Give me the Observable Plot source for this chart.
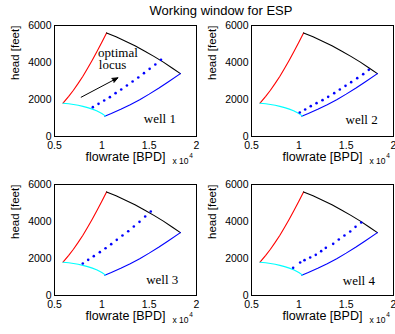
<!DOCTYPE html>
<html><head><meta charset="utf-8">
<script src="https://cdn.jsdelivr.net/npm/d3@7"></script>
<script src="https://cdn.jsdelivr.net/npm/@observablehq/plot@0.6"></script>
<style>
html,body{margin:0;padding:0;background:#fff;}
#chart{position:relative;width:395px;height:334px;font-family:"Liberation Sans",Arial,sans-serif;overflow:hidden;}
#title{position:absolute;top:3px;left:221px;transform:translateX(-50%);font-size:13px;line-height:15px;white-space:nowrap;color:#000;}
</style></head>
<body>
<div id="chart"><div id="title">Working window for ESP</div></div>
<script>
// ---- data (flowrate in units of 10^4 BPD, head in feet) ----
const wells = ["well 1", "well 2", "well 3", "well 4"];
const xTicks = [0.5, 1, 1.5, 2];
const xTickLabels = ["0.5", "1", "1.5", "2"];
const yTicks = [0, 2000, 4000, 6000];
const yTickLabels = ["0", "2000", "4000", "6000"];

// envelope: minimum-flow boundary (red)
const minFlowQ = [0.59, 0.65, 0.70, 0.75, 0.80, 0.85, 0.90, 0.95, 1.00, 1.05];
const minFlowH = [1800, 2170, 2500, 2870, 3260, 3690, 4140, 4610, 5100, 5600];
// envelope: maximum-speed curve (black)
const maxSpeedQ = [1.05, 1.15, 1.25, 1.35, 1.45, 1.55, 1.65, 1.75, 1.83];
const maxSpeedH = [5600, 5390, 5150, 4900, 4620, 4330, 4020, 3680, 3400];
// envelope: maximum-flow boundary (blue)
const maxFlowQ = [1.03, 1.10, 1.20, 1.30, 1.40, 1.50, 1.60, 1.70, 1.83];
const maxFlowH = [1100, 1240, 1470, 1720, 1990, 2290, 2610, 2950, 3400];
// envelope: minimum-speed curve (cyan)
const minSpeedQ = [0.59, 0.65, 0.70, 0.75, 0.80, 0.85, 0.90, 0.95, 1.00, 1.04];
const minSpeedH = [1800, 1770, 1730, 1690, 1630, 1560, 1480, 1380, 1240, 1100];

// optimal locus per well (blue dots)
const locusQ = [
  [0.905, 0.965, 1.025, 1.085, 1.145, 1.205, 1.265, 1.325, 1.385, 1.445, 1.505, 1.565, 1.625],
  [1.010, 1.067, 1.126, 1.187, 1.250, 1.310, 1.374, 1.433, 1.493, 1.553, 1.617, 1.680, 1.739],
  [0.799, 0.856, 0.915, 0.979, 1.039, 1.099, 1.158, 1.218, 1.279, 1.338, 1.398, 1.458, 1.517],
  [0.940, 1.014, 1.060, 1.120, 1.179, 1.236, 1.285, 1.363, 1.422, 1.482, 1.543, 1.599, 1.659]
];
const locusH = [
  [1586, 1766, 1946, 2126, 2342, 2541, 2757, 2973, 3189, 3423, 3658, 3892, 4144],
  [1297, 1459, 1640, 1802, 1964, 2144, 2342, 2541, 2739, 2937, 3153, 3369, 3603],
  [1730, 1928, 2126, 2342, 2558, 2775, 3009, 3243, 3477, 3730, 3982, 4270, 4540],
  [1495, 1784, 1910, 2054, 2198, 2396, 2577, 2793, 3027, 3243, 3459, 3711, 3946]
];

// annotations
const wellLabelQ = [1.443, 1.493, 1.468, 1.465];
const wellLabelH = [946, 913, 859, 805];
const noteLines = ["optimal", "locus"];
const noteQ = [0.96, 0.968];
const noteH = [4524, 3886];
const arrowQ = [0.782, 1.169];
const arrowH = [2124, 3172];

const xLabel = "flowrate [BPD]";
const yLabel = "head [feet]";
const xExponentBase = "x 10";
const xExponent = "4";

// ---- drawing ----
const toPts = (qs, hs) => qs.map((q, j) => ({q, h: hs[j]}));
const curves = [
  {pts: toPts(minFlowQ, minFlowH), color: "#ff0000"},
  {pts: toPts(maxSpeedQ, maxSpeedH), color: "#000000"},
  {pts: toPts(maxFlowQ, maxFlowH), color: "#0000ff"},
  {pts: toPts(minSpeedQ, minSpeedH), color: "#00ffff"}
];
const positions = [[0, 0], [197, 0], [0, 159], [197, 159]];
const chart = document.getElementById("chart");
const serif = '"Liberation Serif", "Times New Roman", serif';

wells.forEach((well, i) => {
  const marks = [
    Plot.axisX({ticks: xTicks, tickFormat: d => xTickLabels[xTicks.indexOf(d)], tickSize: 0, tickPadding: 5, label: null}),
    Plot.axisY({ticks: yTicks, tickFormat: d => yTickLabels[yTicks.indexOf(d)], tickSize: 0, tickPadding: 3, label: null}),
    ...curves.map(c => Plot.line(c.pts, {x: "q", y: "h", stroke: c.color, strokeWidth: 1.1})),
    Plot.dot(toPts(locusQ[i], locusH[i]), {x: "q", y: "h", r: 1.3, fill: "#0000ff", stroke: null}),
    Plot.text([{q: wellLabelQ[i], h: wellLabelH[i], t: well}], {x: "q", y: "h", text: "t", textAnchor: "start", fontFamily: serif, fontSize: 13}),
    Plot.frame({stroke: "black", strokeWidth: 1}),
    Plot.text([xLabel], {text: d => d, frameAnchor: "bottom", dy: 24, fontSize: 12.5}),
    Plot.text([yLabel], {text: d => d, frameAnchor: "left", rotate: -90, dx: -39, dy: -1, fontSize: 11.5}),
    Plot.text([xExponentBase], {text: d => d, frameAnchor: "bottom-right", textAnchor: "start", dx: -24, dy: 27, fontSize: 8.5}),
    Plot.text([xExponent], {text: d => d, frameAnchor: "bottom-right", textAnchor: "middle", dx: -5.5, dy: 21, fontSize: 6.5})
  ];
  if (i === 0) {
    marks.push(
      Plot.text(noteLines.map((t, j) => ({t, q: noteQ[j], h: noteH[j]})), {x: "q", y: "h", text: "t", textAnchor: "start", fontFamily: serif, fontSize: 13}),
      Plot.arrow([{x1: arrowQ[0], y1: arrowH[0], x2: arrowQ[1], y2: arrowH[1]}], {x1: "x1", y1: "y1", x2: "x2", y2: "y2", stroke: "black", fill: "black", strokeWidth: 1, headLength: 9, headAngle: 45})
    );
  }
  const svg = Plot.plot({
    width: 197, height: 167,
    marginLeft: 54, marginRight: 1, marginTop: 25, marginBottom: 31,
    x: {domain: [0.5, 2]},
    y: {domain: [0, 6000]},
    style: {fontFamily: '"Liberation Sans", Arial, sans-serif', fontSize: "10.5px", background: "transparent", overflow: "visible", color: "black"},
    marks
  });
  svg.style.position = "absolute";
  svg.style.left = positions[i][0] + "px";
  svg.style.top = positions[i][1] + "px";
  chart.appendChild(svg);
});
</script>
</body></html>
